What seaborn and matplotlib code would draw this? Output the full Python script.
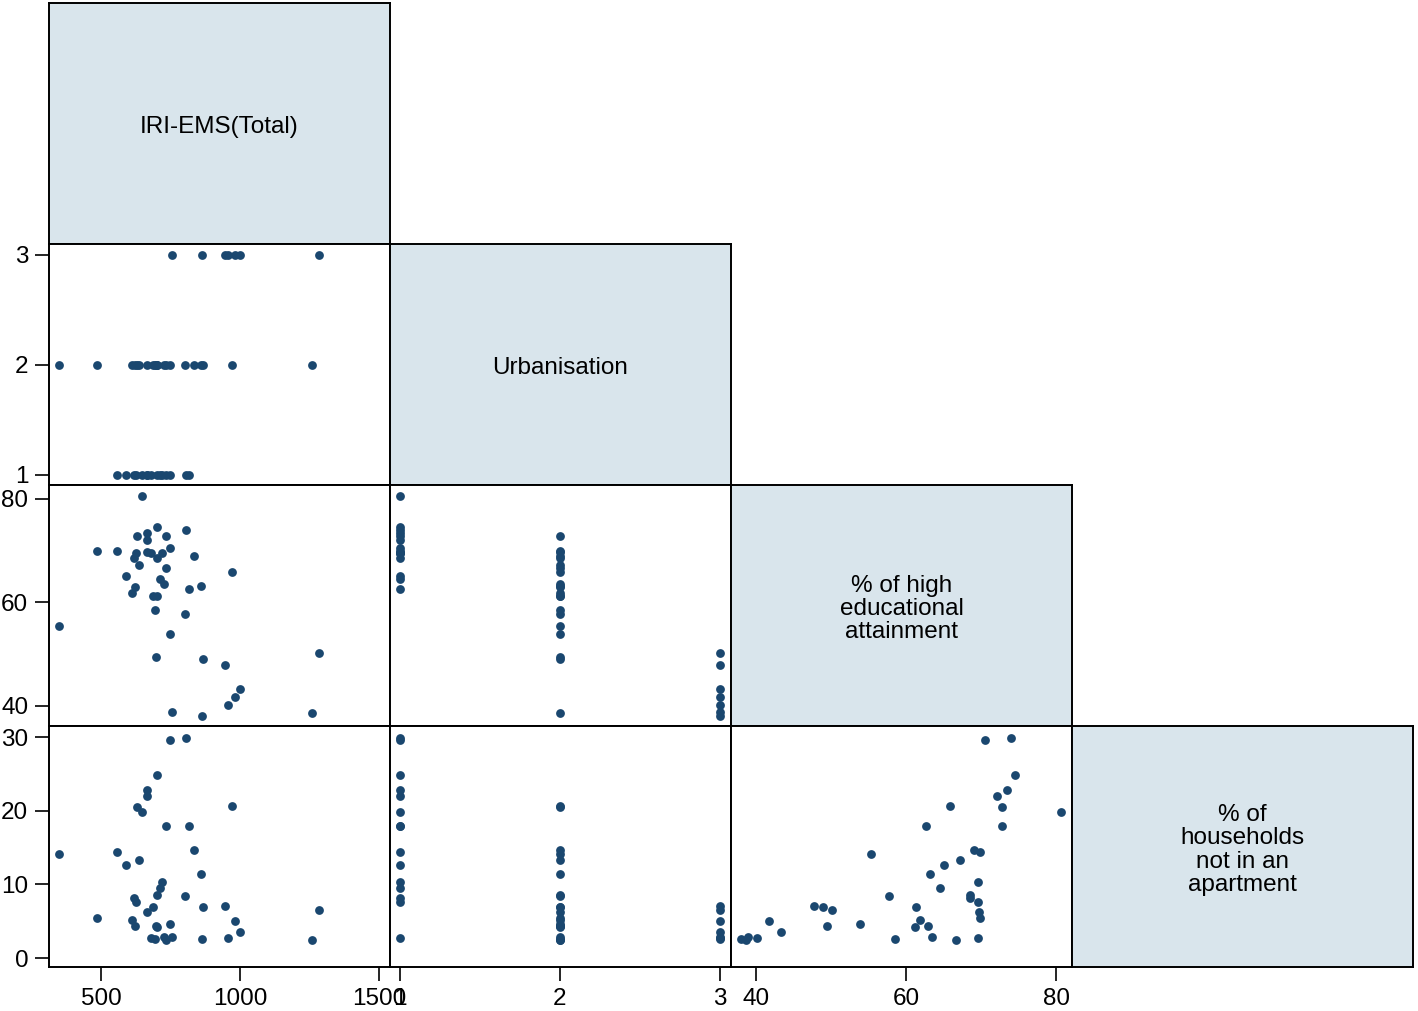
import pandas as pd
import matplotlib.pyplot as plt
import seaborn as sns

iri = [647, 703, 806, 664, 664, 735, 749, 559, 590, 817, 721, 712, 619, 626, 680,
       628, 485, 664, 700, 835, 637, 735, 971, 727, 621, 613, 860, 688, 700, 693,
       803, 349, 748, 699, 867, 1261,
       947, 1283, 1001, 983, 956, 754, 862]
urban = [1] * 15 + [2] * 21 + [3] * 7
edu = [80.6, 74.5, 74.0, 73.4, 72.1, 72.8, 70.5, 69.9, 65.1, 62.6, 69.6, 64.5, 68.5, 69.6, 69.6,
       72.8, 69.9, 69.7, 68.5, 69.0, 67.2, 66.6, 65.9, 63.5, 62.9, 61.9, 63.2, 61.3, 61.2, 58.5,
       57.8, 55.4, 53.9, 49.5, 49.0, 38.7,
       47.8, 50.2, 43.3, 41.8, 40.2, 38.9, 38.0]
house = [19.8, 24.9, 29.9, 22.8, 22.0, 17.9, 29.6, 14.4, 12.7, 17.9, 10.4, 9.5, 8.1, 7.6, 2.7,
         20.5, 5.5, 6.2, 8.6, 14.7, 13.3, 2.4, 20.6, 2.9, 4.3, 5.2, 11.4, 6.9, 4.2, 2.6,
         8.5, 14.2, 4.7, 4.3, 6.9, 2.5,
         7.1, 6.5, 3.6, 5.0, 2.8, 2.9, 2.6]

labels = ["IRI-EMS(Total)", "Urbanisation",
          "% of high\neducational\nattainment",
          "% of\nhouseholds\nnot in an\napartment"]
ticks = [[500, 1000, 1500], [1, 2, 3], [40, 60, 80], [0, 10, 20, 30]]
xlims = [(313, 1540), (0.9375, 3.069), (36.7, 82.1), (-1.2, 31.5)]
ylims = [(313, 1540), (0.909, 3.1), (36.1, 82.7), (-1.2, 31.5)]

df = pd.DataFrame({"iri": iri, "urban": urban, "edu": edu, "house": house})
cols = list(df.columns)

sns.set_style("white")
plt.rcParams["font.family"] = ["Liberation Sans", "DejaVu Sans"]

g = sns.PairGrid(df, vars=cols, corner=True, despine=False, height=2.5)
g.map_lower(sns.scatterplot, color="#1a476f", s=40, linewidth=0)

g.figure.set_size_inches(14.18, 10.11)
g.figure.subplots_adjust(left=49 / 1418, right=1413 / 1418,
                         bottom=1 - 967 / 1011, top=1 - 3 / 1011,
                         wspace=0, hspace=0)

n = len(cols)
for i in range(n):
    for j in range(i + 1):
        ax = g.axes[i, j]
        ax.set_xlabel("")
        ax.set_ylabel("")
        ax.set_xlim(xlims[j])
        ax.set_ylim(ylims[i])
        ax.tick_params(left=False, bottom=False, labelleft=False, labelbottom=False,
                       length=10, width=1.2, color="black", labelcolor="black",
                       labelsize=17.5, pad=5)
        for sp in ax.spines.values():
            sp.set_visible(True)
            sp.set_color("black")
            sp.set_linewidth(1.4)
        if i == j:
            ax.set_facecolor("#d9e5ec")
            ax.text(0.5, 0.485, labels[i], transform=ax.transAxes, ha="center",
                    va="center", fontsize=17.5, linespacing=1.08, color="black")
        if j == 0 and i > 0:
            ax.set_yticks(ticks[i])
            ax.tick_params(left=True, labelleft=True)
        if i == n - 1 and j < n - 1:
            ax.set_xticks(ticks[j])
            ax.tick_params(bottom=True, labelbottom=True)

plt.savefig("out.png", dpi=100)
plt.close()
